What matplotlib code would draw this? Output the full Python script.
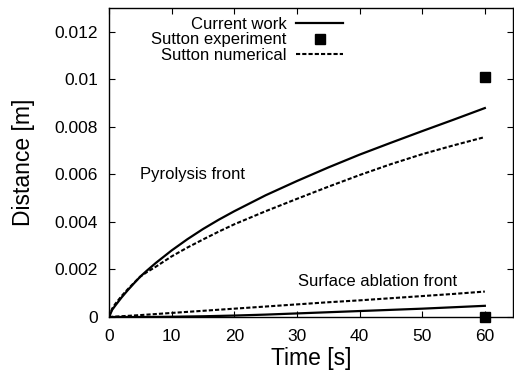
import matplotlib.pyplot as plt

plt.rcParams["font.family"] = ["Liberation Sans", "DejaVu Sans"]

# Pyrolysis front position
t_pyro = [0, 0.5, 1, 2, 3, 4, 5, 6, 7.5, 10, 12.5, 15, 17.5, 20, 25, 30, 35,
          40, 45, 50, 55, 60]
pyro_current = [0, 0.0003, 0.00048, 0.00082, 0.00113, 0.00142, 0.0017, 0.00194,
                0.00228, 0.0028, 0.00327, 0.0037, 0.00409, 0.00445, 0.00512,
                0.00572, 0.00629, 0.00683, 0.00733, 0.00782, 0.0083, 0.00879]
pyro_sutton = [0, 0.00035, 0.00055, 0.00088, 0.00117, 0.00144, 0.0017, 0.00188,
               0.00212, 0.00255, 0.00292, 0.00326, 0.00359, 0.0039, 0.00445,
               0.00497, 0.00548, 0.00597, 0.00643, 0.00685, 0.00722, 0.00757]

# Surface ablation front position
t_abl = [0, 5, 10, 15, 20, 25, 30, 35, 40, 45, 50, 55, 60]
abl_current = [0, 0.0, 0.00001, 0.00003, 0.00006, 0.0001, 0.00015, 0.0002,
               0.00025, 0.0003, 0.00035, 0.00041, 0.00047]
abl_sutton = [0, 0.00008, 0.00017, 0.00026, 0.00035, 0.00044, 0.00053, 0.00062,
              0.0007, 0.00079, 0.00088, 0.00097, 0.00107]

# Sutton experimental end points
t_exp = [60, 60]
d_exp = [0.0101, 0.0]

fig = plt.figure(figsize=(5.14, 3.75), dpi=100)
ax = fig.add_axes([0.2121, 0.1547, 0.786, 0.824])

dash = (0, (2.0, 1.0))
ax.plot(t_pyro, pyro_current, color="black", lw=1.6, label="Current work")
ax.plot(t_exp, d_exp, "s", color="black", ms=7, label="Sutton experiment",
        clip_on=False, zorder=5)
ax.plot(t_pyro, pyro_sutton, color="black", lw=1.5, linestyle=dash,
        label="Sutton numerical")
ax.plot(t_abl, abl_current, color="black", lw=1.6)
ax.plot(t_abl, abl_sutton, color="black", lw=1.5, linestyle=dash)

ax.text(4.9, 0.006, "Pyrolysis front", fontsize=12, va="center")
ax.text(30.2, 0.0015, "Surface ablation front", fontsize=12, va="center")

ax.set_xlim(0, 64.5)
ax.set_ylim(0, 0.013)
ax.set_xticks([0, 10, 20, 30, 40, 50, 60])
ax.set_yticks([0, 0.002, 0.004, 0.006, 0.008, 0.01, 0.012])
ax.set_yticklabels(["0", "0.002", "0.004", "0.006", "0.008", "0.01", "0.012"])
ax.tick_params(direction="in", top=True, right=True, labelsize=12.5,
               length=4, width=0.8)
ax.tick_params(axis="y", pad=8)
ax.tick_params(axis="x", pad=9)
for s in ax.spines.values():
    s.set_linewidth(1.0)

ax.set_xlabel("Time [s]", fontsize=16.5, labelpad=2)
ax.set_ylabel("Distance [m]", fontsize=16.5, labelpad=14)

ax.legend(loc="upper right", bbox_to_anchor=(0.579, 0.972), frameon=False,
          markerfirst=False, fontsize=12, handlelength=2.8, handletextpad=0.6,
          labelspacing=0.05, borderaxespad=0, borderpad=0)

fig.savefig("out.png", dpi=100)
